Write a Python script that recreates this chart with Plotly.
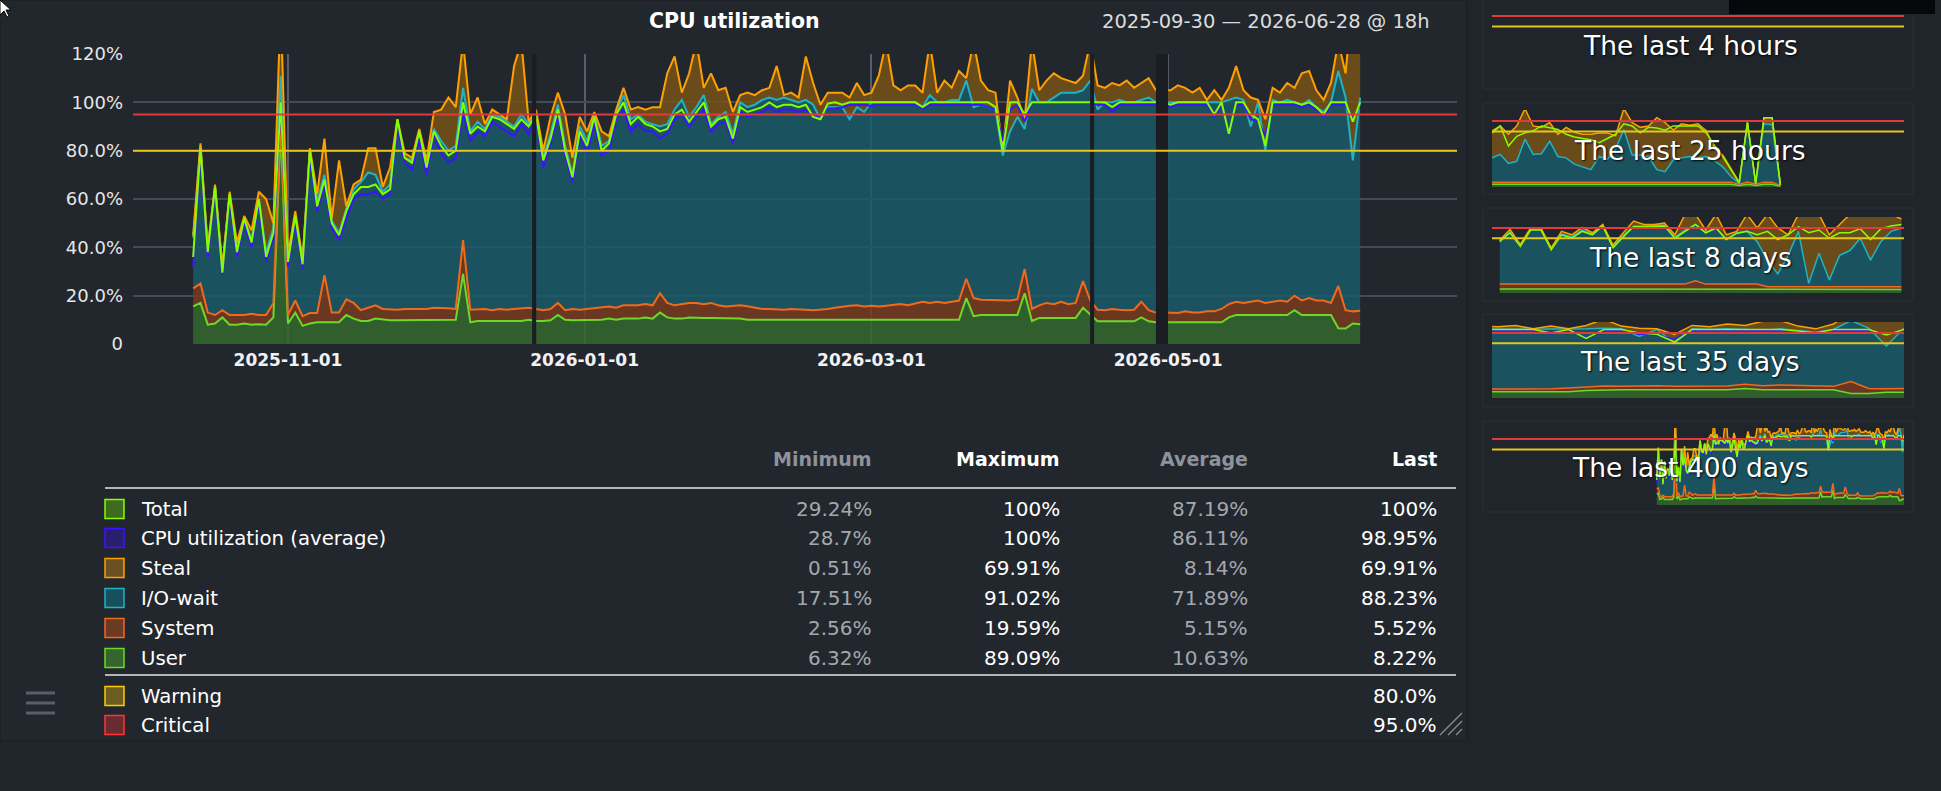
import pandas as pd
import plotly.graph_objects as go

W, H = 1941, 791
FONT = "DejaVu Sans"

# ---- main graph: one sample every 36 hours -------------------------------
start = "2025-10-12 12:00"

user = [
    15.6, 17, 8, 8.5, 11, 8, 8, 8.5, 8, 8.2,
    8, 11, 89, 8.5, 13, 7.5, 8.5, 9, 9, 9,
    9, 12, 10.5, 9.5, 9.5, 10.5, 10, 9.8, 9.8, 9.8,
    9.8, 10, 10, 10, 10, 10, 10, 29, 9, 9.5,
    9.5, 9.5, 9.5, 9.5, 9.3, 9.5, 10, 9.5, 9.5, 9.8,
    12, 10, 9.8, 9.8, 10, 10, 10, 10.5, 10, 10.5,
    10.5, 10.5, 11, 10.5, 13, 11, 10.5, 10.5, 11, 10.8,
    10.8, 10.8, 10.8, 10.5, 10.5, 10.5, 10, 10, 10, 9.8,
    9.7, 9.7, 9.8, 9.7, 9.7, 9.7, 9.7, 9.8, 10, 10,
    10, 10, 10, 10, 10, 10, 10, 10, 10, 10,
    10, 10, 10, 10, 10, 10, 19, 11.5, 12, 12,
    12, 12, 12, 12, 21, 9.5, 10.8, 10.8, 10.8, 10.8,
    10.8, 10.8, 15, 12, 9.4, 9.4, 9.4, 9.4, 9.4, 9.4,
    11, 9.4, 9, 9, 9, 9, 9, 9, 9, 9,
    9, 9, 11, 12, 12, 12, 12, 12, 12, 12,
    12, 14, 12, 12, 12, 12, 12, 6.5, 6.4, 8.5,
    8.22,
]
system = [
    7.4, 8, 5, 3.5, 3, 4, 4, 3.5, 4.5, 3.8,
    4, 6, 4, 3.5, 5, 4, 4.3, 3.8, 19.5, 4,
    4, 6.5, 6.5, 4.5, 5.5, 5.5, 4.5, 4.4, 4.4, 4.7,
    4.7, 4.5, 4.5, 5, 5, 4.8, 4.5, 14, 5.2, 5,
    5, 4.5, 5, 4.7, 5.2, 5.5, 5, 5, 4.5, 4.7,
    5, 4, 4.7, 4.4, 4.5, 5, 5, 5, 5, 5.5,
    5.5, 5.5, 5.5, 5.5, 8, 6, 5.5, 6, 6, 6.2,
    5.7, 6.2, 5.2, 5, 5.3, 5.5, 5.6, 5, 4.5, 4.7,
    4.5, 4.5, 4.7, 4.5, 4.5, 4.3, 4.5, 4.7, 5, 5.5,
    5.8, 6, 5.5, 5.8, 5.5, 5.8, 6, 6.5, 6, 6.8,
    7.5, 7, 7.5, 7, 7.5, 8, 8, 7.5, 6.3, 6.3,
    6, 6.3, 6, 6.5, 10, 5, 5.2, 6.2, 5.7, 6.7,
    5.7, 6.2, 11, 6, 4.8, 4.6, 5.1, 4.8, 4.6, 4.8,
    6.5, 4.6, 4, 4, 4, 3.8, 4.5, 4, 4, 4.5,
    4.5, 5.5, 5.5, 5.5, 5, 5.5, 6, 5, 5.5, 6,
    5.5, 6, 6, 7, 6, 6, 5, 17.5, 7.6, 5,
    5.52,
]
iowait = [
    21, 57, 26, 53, 17.5, 50, 27, 40, 30.5, 48,
    26, 31, 18, 23, 35, 22.5, 67.2, 46.2, 41.5, 38,
    33, 37.5, 47, 53, 56, 54, 48.5, 51.8, 77.8, 62.5,
    61.5, 73.5, 59.5, 74, 69, 65.2, 67.5, 63, 73.8, 77.5,
    74.5, 81, 79.5, 77.8, 75.5, 80, 76, 81.5, 63, 72.5,
    82, 68, 55.5, 75.8, 69.5, 80, 67, 68.5, 81, 87,
    77, 79, 75.5, 75, 69, 74, 81, 84.5, 77, 81,
    86.5, 74, 78, 80.5, 71.2, 84, 82.4, 84, 86.5, 87.5,
    86.8, 87.8, 86.5, 85.8, 86.8, 85, 78.8, 83.5, 83, 82.5,
    77.2, 82, 80.5, 84.2, 84.5, 84.2, 84, 83.5, 84, 83.2,
    80.5, 86, 82.5, 83, 83.5, 83, 82, 79, 80.7, 79.7,
    79, 59.7, 70, 75.5, 58, 91, 84, 83, 85.5, 86.5,
    87.5, 87, 79, 91, 82.8, 86, 85.5, 86.8, 86, 85.8,
    83.5, 88, 87, 87, 87, 87.2, 86.5, 87, 87, 86.5,
    86.5, 85.5, 84.5, 84.5, 84, 72.5, 82, 63, 83.5, 82,
    83.5, 80, 81, 82, 80, 78, 83, 89, 88, 62.5,
    88.23,
]
steal = [
    1, 1, 1, 1, 0.5, 1, 3, 1, 4, 3,
    22, 2, 29, 2, 2, 1, 1, 3, 15, 1,
    30, 1, 2, 1, 10, 11, 2, 7, 1, 2,
    1, 1, 2, 7, 13, 22, 16, 19, 7, 10,
    2, 2, 1, 1, 25, 30, 1, 1, 3, 7,
    5, 13, 7, 4, 4, 1, 6, 2, 1, 3,
    4, 3, 5, 7, 8, 21, 22, 3, 18, 27,
    3, 21, 11, 10, 9, 3, 6, 4, 4, 4,
    14, 1, 3, 2, 18, 9, 6, 6, 6, 6,
    9, 10, 7, 4, 11, 25, 7, 5, 7, 7,
    6, 22, 4, 9, 5, 12, 1, 27, 10, 7,
    7, 2, 21, 8, 4, 19.5, 5, 9, 10, 6,
    5, 4, 6, 16, 10, 6, 8, 6, 9, 6,
    7, 8, 5, 5, 5, 7, 6, 4, 6, 1,
    5, 1, 5, 13, 4, 12, 1, 13, 5, 4,
    7, 6, 13, 12, 7, 5, 8, 12, 10, 69,
    69.91,
]
total = [
    36, 81, 38, 65, 29.5, 62, 38, 52, 42, 60,
    36, 46, 100, 34, 53, 33, 80, 57, 68, 50,
    45, 55, 62, 65, 65, 66, 62, 64, 93, 77,
    75, 88, 73, 88, 82, 78, 80, 100, 87, 90,
    88, 94, 93, 91, 89, 93, 90, 95, 76, 85,
    97, 80, 69, 88, 82, 94, 80, 83, 95, 100,
    91, 94, 91, 90, 88, 89, 95, 97, 92, 96,
    100, 90, 93, 94, 85, 98, 96, 97, 98, 100,
    98, 99, 99, 98, 99, 94, 93, 99.5, 100, 99,
    100, 100, 100, 100, 100, 100, 100, 100, 100, 100,
    98, 100, 100, 100, 100, 100, 100, 100, 100, 100,
    98, 80, 100, 100, 95, 100, 100, 100, 100, 100,
    100, 100, 100, 100, 100, 100, 98, 100, 100, 100,
    100, 100, 100, 100, 99, 100, 100, 100, 100, 100,
    95, 100, 87, 100, 100, 95, 93, 82, 100, 100,
    100, 100, 99, 100, 98, 95, 100, 100, 100, 92,
    100,
]
cpu_avg = [
    32, 79, 36, 63, 28.7, 60, 36, 50, 40, 58,
    34, 44, 98, 32, 51, 31, 77, 55, 66, 48,
    43, 52, 60, 62, 62, 63, 60, 62, 90, 75,
    72, 85, 70, 86, 79, 75, 77, 96, 84, 88,
    86, 92, 90, 88, 86, 91, 87, 93, 73, 83,
    95, 78, 67, 86, 79, 91, 78, 80, 93, 97,
    88, 91, 88, 88, 85, 87, 93, 95, 90, 94,
    97, 88, 91, 92, 83, 96, 94, 95, 96, 98,
    96, 97, 97, 96, 97, 94, 94, 97.5, 97.5, 98,
    99, 99, 99, 98.5, 99, 99, 99, 99, 99, 99,
    97.5, 99, 99, 99, 99, 99, 99, 99, 99, 98,
    97, 84, 97, 99, 92, 100, 100, 100, 100, 100,
    100, 100, 100, 100, 99, 99, 96, 99, 99, 99,
    99, 99, 99, 99, 98, 99, 99, 99, 99, 99,
    94, 99, 88, 99, 99, 93, 92, 86, 99, 99,
    99, 99, 98, 99, 97, 94, 99, 99, 99, 93,
    98.95,
]

# periods without data
gaps = [
    ("2025-12-21 05:00", "2025-12-22 01:00"),
    ("2026-04-14 23:00", "2026-04-15 19:00"),
    ("2026-04-28 12:00", "2026-05-01 00:00"),
]
warning_level = 80
critical_level = 95

x_ticks = ["2025-11-01", "2026-01-01", "2026-03-01", "2026-05-01"]
y_ticks = [0, 20, 40, 60, 80, 100, 120]
y_tick_text = ["0", "20.0%", "40.0%", "60.0%", "80.0%", "100%", "120%"]

# ---- thumbnails -----------------------------------------------------------
# last 25 hours, one sample every 30 minutes
h25_user = [4, 4, 4, 4, 4, 4, 4, 4, 4, 4, 4, 4, 4, 4, 4, 4, 4, 4,
            4, 4, 4, 4, 4, 4, 4, 4, 4, 4, 4, 4, 2, 4, 2, 4, 4, 1]
h25_system = [3, 3, 3, 3, 3, 3, 3, 3, 3, 3, 3, 3, 3, 3, 3, 3, 3, 3,
              3, 3, 3, 3, 3, 3, 3, 3, 3, 3, 3, 3, 2, 3, 2, 3, 3, 1]
h25_iowait = [35, 40, 27, 30, 62, 40, 41, 59, 37, 35, 26, 22, 18, 37, 33, 48, 76, 39,
              39, 37, 18, 15, 32, 35, 37, 35, 37, 31, 22, 8, 1, 86, 1, 84, 83, 0]
h25_steal = [39, 41, 42, 51, 44, 41, 38, 27, 32, 44, 46, 47, 51, 34, 38, 19, 30, 47,
             40, 44, 75, 71, 43, 49, 45, 49, 37, 17, 17, 12, 2, 0, 0, 9, 10, 1]
h25_total = [78, 88, 59, 73, 78, 81, 88, 85, 83, 76, 72, 70, 68, 64, 70, 76, 91, 88,
             78, 86, 85, 82, 88, 88, 88, 88, 78, 60, 44, 25, 6, 93, 5, 100, 100, 3]

# last 8 days, one sample every 4.8 hours
d8_user = [6, 6, 6, 6, 6, 6, 6, 6, 6, 6, 6, 6, 6, 6, 6, 6, 6, 6, 6, 6,
           6, 6, 6, 6, 6, 6, 5, 5, 5, 5, 5, 5, 5, 5, 5, 5, 5, 5, 5, 5]
d8_system = [7, 7, 7, 7, 7, 7, 7, 7, 7, 7, 7, 7, 7, 7, 7, 7, 7, 7, 7, 12,
             7, 7, 7, 7, 7, 7, 4, 4, 4, 4, 4, 4, 4, 4, 4, 4, 4, 4, 4, 4]
d8_iowait = [63, 76, 57, 80, 80, 52, 73, 69, 79, 73, 86, 55, 71, 84, 84, 85, 86, 68, 79, 82,
             75, 82, 65, 75, 77, 62, 39, 19, 46, 81, 5, 49, 10, 46, 53, 71, 39, 66, 81, 86]
d8_steal = [1, 4, 1, 2, 2, 1, 4, 3, 4, 2, 1, 2, 4, 8, 3, 2, 3, 4, 23, 15,
            4, 20, 7, 2, 25, 20, 67, 67, 30, 25, 101, 57, 66, 45, 53, 35, 67, 40, 25, 13]
d8_total = [75, 88, 68, 92, 92, 63, 85, 80, 90, 85, 98, 66, 82, 97, 97, 97, 98, 80, 90, 100,
            88, 95, 78, 87, 90, 85, 90, 78, 85, 97, 88, 92, 80, 88, 88, 94, 78, 94, 98, 100]

thumb_titles = ["The last 4 hours", "The last 25 hours", "The last 8 days",
                "The last 35 days", "The last 400 days"]

# ---- summary table --------------------------------------------------------
table_names = ["Total", "CPU utilization (average)", "Steal", "I/O-wait", "System", "User"]
table_min = ["29.24%", "28.7%", "0.51%", "17.51%", "2.56%", "6.32%"]
table_max = ["100%", "100%", "69.91%", "91.02%", "19.59%", "89.09%"]
table_avg = ["87.19%", "86.11%", "8.14%", "71.89%", "5.15%", "10.63%"]
table_last = ["100%", "98.95%", "69.91%", "88.23%", "5.52%", "8.22%"]
threshold_names = ["Warning", "Critical"]
threshold_last = ["80.0%", "95.0%"]

# colours: (line / border, fill)
COL = {
    "Total": ("#84ff00", "#3f6b1f"),
    "CPU utilization (average)": ("#3a14ff", "#2a1f6e"),
    "Steal": ("#ffa000", "#6b5024"),
    "I/O-wait": ("#1fb3c4", "#17505c"),
    "System": ("#f06a1e", "#6b3a22"),
    "User": ("#6ed82a", "#35652c"),
    "Warning": ("#ffcc00", "#6b5d20"),
    "Critical": ("#ff3535", "#6b2a30"),
}
AREA_FILL = {
    "User": "rgba(50,104,43,0.85)",
    "System": "rgba(119,60,30,0.85)",
    "I/O-wait": "rgba(26,91,105,0.85)",
    "Steal": "rgba(119,83,23,0.85)",
}
WARN_LINE = "#e6c419"
CRIT_LINE = "#e03a3a"


def px_x(x):
    return x / W


def px_y(y):
    return 1 - y / H


def rect(x0, y0, x1, y1, fill, line=None, width=0, layer="below"):
    return dict(type="rect", xref="paper", yref="paper", layer=layer,
                x0=px_x(x0), x1=px_x(x1), y0=px_y(y1), y1=px_y(y0),
                fillcolor=fill, line=dict(color=line or fill, width=width))


def seg(x0, y0, x1, y1, color, width):
    return dict(type="line", xref="paper", yref="paper",
                x0=px_x(x0), x1=px_x(x1), y0=px_y(y0), y1=px_y(y1),
                line=dict(color=color, width=width))


def path(points, fill, line):
    d = "M " + " L ".join(f"{px_x(x):.5f},{px_y(y):.5f}" for x, y in points) + " Z"
    return dict(type="path", xref="paper", yref="paper", path=d,
                fillcolor=fill, line=dict(color=line, width=1), layer="above")


fig = go.Figure()
shapes = []


def label(x, y, s, size=19.7, color="#ffffff", anchor="left", bold=False, **extra):
    fig.add_annotation(x=px_x(x), y=px_y(y), xref="paper", yref="paper", text=s,
                       showarrow=False, xanchor=anchor, yanchor="middle",
                       font=dict(family=FONT, size=size, color=color,
                                 weight="bold" if bold else "normal", **extra))


def add_stack(x, parts, lines, xa, ya, group, lw):
    for name, vals in zip(["User", "System", "I/O-wait", "Steal"], parts):
        fig.add_trace(go.Scatter(
            x=x, y=vals, xaxis=xa, yaxis=ya, stackgroup=group, mode="lines",
            line=dict(color=COL[name][0], width=lw), fillcolor=AREA_FILL[name],
            hoverinfo="skip", showlegend=False,
        ))
    for name, vals in lines:
        fig.add_trace(go.Scatter(
            x=x, y=vals, xaxis=xa, yaxis=ya, mode="lines",
            line=dict(color=COL[name][0], width=lw), hoverinfo="skip", showlegend=False,
        ))


# ---- page background, panels ---------------------------------------------
shapes.append(rect(0, 0, 1467, 741, "#22272e", "#1a1d22", 1))
thumb_boxes = [(-3, 89), (103, 194), (208, 301), (314, 407), (421, 512)]
thumb_plots = [(5, 82), (110, 187), (217, 293), (322, 398), (428, 505)]
for y0, y1 in thumb_boxes:
    shapes.append(rect(1483, y0, 1913, y1, "#20252c", "#2b3037", 1))

# ---- main graph -----------------------------------------------------------
dates = pd.date_range(start, periods=len(user), freq="36h")
add_stack(dates, [user, system, iowait, steal],
          [("CPU utilization (average)", cpu_avg), ("Total", total)], "x", "y", "main", 2)

for g0, g1 in gaps:
    shapes.append(dict(type="rect", xref="x", yref="y domain", x0=g0, x1=g1, y0=0, y1=1,
                       fillcolor="#1a1d22", line=dict(width=0), layer="above"))
shapes.append(dict(type="line", xref="x domain", yref="y", x0=0, x1=1,
                   y0=warning_level, y1=warning_level, line=dict(color=WARN_LINE, width=2)))
shapes.append(dict(type="line", xref="x domain", yref="y", x0=0, x1=1,
                   y0=critical_level, y1=critical_level, line=dict(color=CRIT_LINE, width=2)))

# ---- thumbnails -----------------------------------------------------------
end = dates[-1]
fig.add_trace(go.Scatter(x=[], y=[], xaxis="x2", yaxis="y2", showlegend=False))
add_stack([0.5 * k for k in range(len(h25_user))],
          [h25_user, h25_system, h25_iowait, h25_steal], [("Total", h25_total)],
          "x3", "y3", "h25", 1.5)
add_stack([0.15 + 0.2 * k for k in range(len(d8_user))],
          [d8_user, d8_system, d8_iowait, d8_steal], [("Total", d8_total)],
          "x4", "y4", "d8", 1.5)
add_stack(dates, [user, system, iowait, steal],
          [("CPU utilization (average)", cpu_avg), ("Total", total)], "x5", "y5", "d35", 1.5)
add_stack(dates, [user, system, iowait, steal],
          [("CPU utilization (average)", cpu_avg), ("Total", total)], "x6", "y6", "d400", 1.5)

thumb_ranges = [
    [0, 4], [0, 25], [0, 8],
    [end - pd.Timedelta(days=35), end], [end - pd.Timedelta(days=400), end],
]
axes = {}
for n, ((t, b), rng) in enumerate(zip(thumb_plots, thumb_ranges), start=2):
    axes[f"xaxis{n}"] = dict(domain=[px_x(1492), px_x(1904)], range=rng, visible=False,
                             anchor=f"y{n}", fixedrange=True, automargin=False)
    axes[f"yaxis{n}"] = dict(domain=[px_y(b), px_y(t)], range=[0, 111], visible=False,
                             anchor=f"x{n}", fixedrange=True, automargin=False)
    for lvl, col in ((warning_level, WARN_LINE), (critical_level, CRIT_LINE)):
        shapes.append(dict(type="line", xref=f"x{n} domain", yref=f"y{n}", x0=0, x1=1,
                           y0=lvl, y1=lvl, line=dict(color=col, width=2)))

for title, y in zip(thumb_titles, [45, 150, 257, 362, 467]):
    label(1690, y, title, size=26.5, color="#ffffff", anchor="center",
          shadow="1px 1px 2px #000000")

# tooltip remnant at the top right
shapes.append(rect(1729, -6, 1935, 14, "#06080b", layer="above"))

# ---- headings -------------------------------------------------------------
label(734, 21, "CPU utilization", size=20.5, bold=True, anchor="center")
label(1432, 21, "2025-09-30 — 2026-06-28 @ 18h", size=19.5, color="#dcdcdc", anchor="right")

# ---- summary table --------------------------------------------------------
cols = [874, 1062, 1250, 1439]
for x, head, col in zip(cols, ["Minimum", "Maximum", "Average", "Last"],
                        ["#8d939b", "#ffffff", "#8d939b", "#ffffff"]):
    label(x, 459, head, size=19, color=col, anchor="right", bold=True)
shapes.append(seg(105, 488, 1456, 488, "#e6e6e6", 1.5))
shapes.append(seg(105, 675, 1456, 675, "#e6e6e6", 1.5))

row_y = [509, 538, 568, 598, 628, 658]
for y, name, mn, mx, av, la in zip(row_y, table_names, table_min, table_max, table_avg, table_last):
    shapes.append(rect(105, y - 9.5, 124, y + 9.5, COL[name][1], COL[name][0], 1.5, "above"))
    label(139, y, name)
    for x, val, col in zip(cols, [mn, mx, av, la], ["#a3a8ae", "#ffffff", "#a3a8ae", "#ffffff"]):
        label(x, y, val, size=20, color=col, anchor="right")

for y, name, la in zip([696, 725], threshold_names, threshold_last):
    shapes.append(rect(105, y - 9.5, 124, y + 9.5, COL[name][1], COL[name][0], 1.5, "above"))
    label(139, y, name)
    label(cols[3], y, la, size=20, anchor="right")

# menu icon and resize grip
for y in (693, 703, 713):
    shapes.append(seg(26, y, 55, y, "#56606b", 3))
for (x0, y0) in ((1462, 713), (1462, 721), (1462, 729)):
    shapes.append(seg(x0, y0, x0 - (735 - y0), 735, "#8a8f96", 1.2))

# mouse pointer
shapes.append(path([(0, 0), (0, 15), (4, 11), (7, 17), (9, 16), (6, 10), (11, 10)],
                   "#ffffff", "#000000"))

fig.update_layout(
    width=W,
    height=H,
    margin=dict(l=0, r=0, t=0, b=0, pad=0, autoexpand=False),
    paper_bgcolor="#20252c",
    plot_bgcolor="rgba(0,0,0,0)",
    showlegend=False,
    font=dict(family=FONT, color="#e6e6e6"),
    shapes=shapes,
    xaxis=dict(
        domain=[px_x(133), px_x(1457)],
        type="date",
        range=["2025-09-30 03:00", "2026-06-29 10:00"],
        tickvals=x_ticks,
        ticktext=x_ticks,
        showgrid=True,
        gridcolor="#56606d",
        gridwidth=1.5,
        zeroline=False,
        showline=False,
        ticks="",
        ticklabelstandoff=4,
        automargin=False,
        tickfont=dict(family=FONT, size=17, color="#f2f2f2", weight="bold"),
        fixedrange=True,
    ),
    yaxis=dict(
        domain=[px_y(344), px_y(54)],
        range=[0, 120],
        tickvals=y_ticks,
        ticktext=y_tick_text,
        showgrid=True,
        gridcolor="#434b57",
        gridwidth=1.5,
        zeroline=False,
        showline=False,
        ticks="",
        ticklabelstandoff=9,
        automargin=False,
        tickfont=dict(family=FONT, size=18, color="#e6e6e6"),
        fixedrange=True,
    ),
    **axes,
)

# the page body has a default margin; drop it so the figure fills the window
fig.write_html("out.html", config={"displayModeBar": False},
               post_script="document.body.style.margin = '0';")
